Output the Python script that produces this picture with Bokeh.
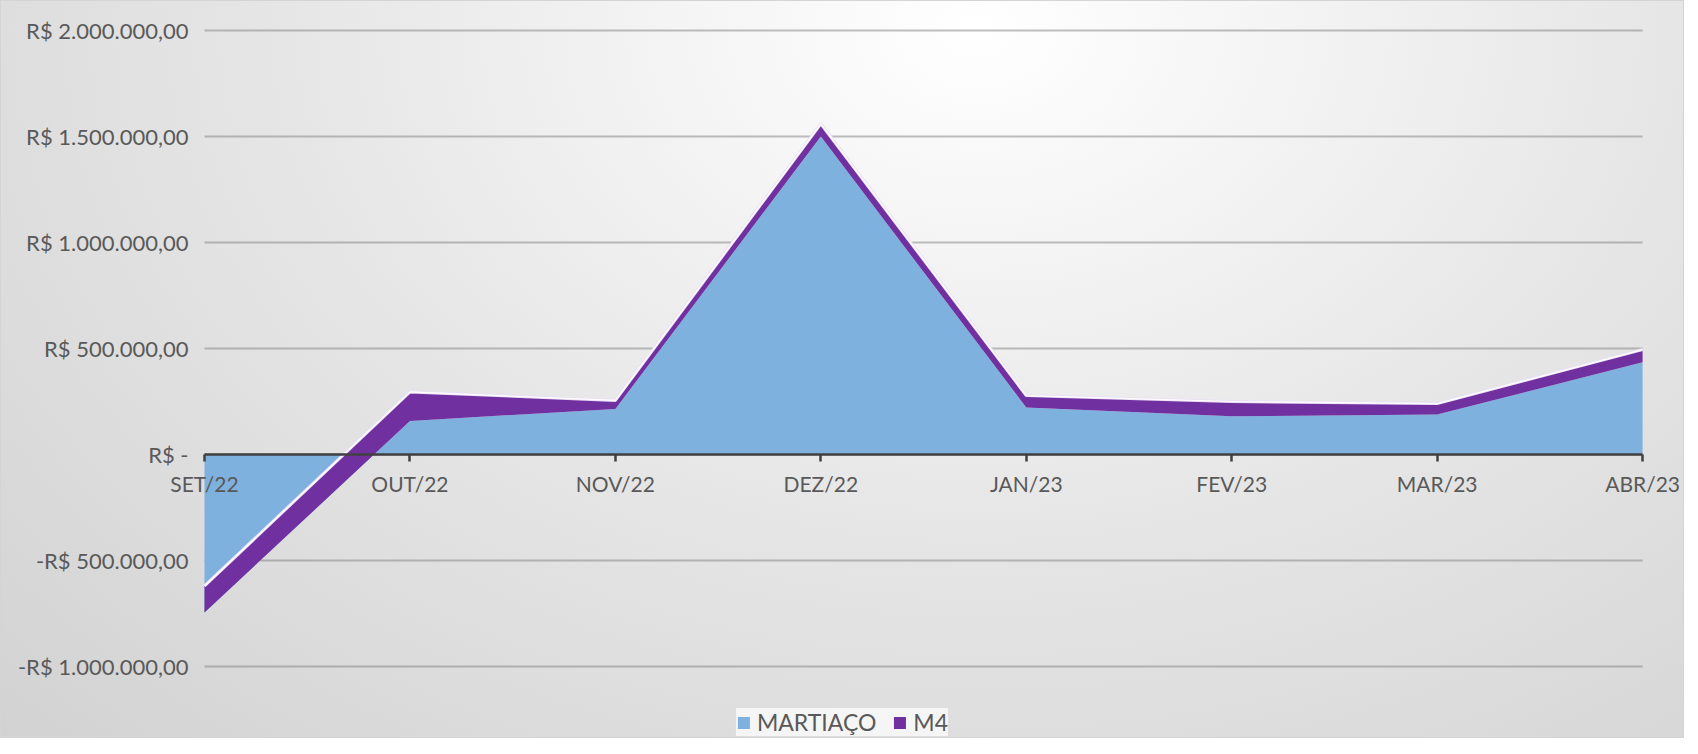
from bokeh.plotting import figure
from bokeh.models import FixedTicker, Range1d, Legend, LegendItem
from bokeh.embed import file_html
from bokeh.resources import INLINE

categories = ["SET/22", "OUT/22", "NOV/22", "DEZ/22", "JAN/23", "FEV/23", "MAR/23", "ABR/23"]
martiaco = [-745000, 158000, 215000, 1500000, 222000, 180000, 189000, 435000]
m4 = [125000, 137000, 40000, 60000, 56000, 70000, 51000, 60000]
y_ticks = [-1000000, -500000, 0, 500000, 1000000, 1500000, 2000000]
y_tick_labels = ["-R$ 1.000.000,00", "-R$ 500.000,00", "R$ -", "R$ 500.000,00",
                 "R$ 1.000.000,00", "R$ 1.500.000,00", "R$ 2.000.000,00"]

x = list(range(len(categories)))
total = [a + b for a, b in zip(martiaco, m4)]
zeros = [0] * len(x)

FONT = "Lato"
TXT = "#595959"

p = figure(width=1684, height=738, output_backend="svg", toolbar_location=None,
           x_range=Range1d(-0.993, 7.204), y_range=Range1d(-1339600, 2141500),
           min_border=0)
p.background_fill_alpha = 0
p.border_fill_alpha = 0
p.outline_line_color = None
p.styles = {
    "background": "radial-gradient(ellipse farthest-corner at 58% 4%, #ffffff 0%, #f8f8f8 14%, #e6e6e6 50%, #d2d2d2 100%)",
    "box-shadow": "inset 0 0 0 1px #d4d4d4",
}

# horizontal gridlines across the category span
p.segment(x0=[x[0]] * len(y_ticks), x1=[x[-1]] * len(y_ticks), y0=y_ticks, y1=y_ticks,
          line_color="#7f7f7f", line_alpha=0.5, line_width=2)

r1 = p.varea(x=x, y1=zeros, y2=martiaco, fill_color="#7fb1de")
r2 = p.varea(x=x, y1=martiaco, y2=total, fill_color="#7030a0")
p.line(x=x, y=total, line_color="#eadff5", line_width=3)
p.line(x=x, y=total, line_color="#ffffff", line_width=1.2)

p.xgrid.visible = False
p.ygrid.visible = False

# y axis
p.yaxis.fixed_location = 0
p.yaxis.ticker = FixedTicker(ticks=y_ticks)
p.yaxis.major_label_overrides = {t: l for t, l in zip(y_ticks, y_tick_labels)}
p.yaxis.axis_line_color = None
p.yaxis.major_tick_line_color = None
p.yaxis.minor_tick_line_color = None
p.yaxis.major_label_standoff = 10
p.yaxis.major_label_text_font = FONT
p.yaxis.major_label_text_font_size = "22px"
p.yaxis.major_label_text_color = TXT

# x axis at zero
p.xaxis.fixed_location = 0
p.xaxis.bounds = (x[0], x[-1])
p.xaxis.ticker = FixedTicker(ticks=x)
p.xaxis.major_label_overrides = {i: c for i, c in zip(x, categories)}
p.xaxis.axis_line_color = "#404040"
p.xaxis.axis_line_width = 2.5
p.xaxis.major_tick_line_color = "#404040"
p.xaxis.major_tick_line_width = 2.5
p.xaxis.major_tick_out = 7
p.xaxis.major_tick_in = 0
p.xaxis.minor_tick_line_color = None
p.xaxis.major_label_standoff = 9
p.xaxis.major_label_text_font = FONT
p.xaxis.major_label_text_font_size = "21px"
p.xaxis.major_label_text_color = TXT

legend = Legend(items=[LegendItem(label="MARTIAÇO", renderers=[r1]),
                       LegendItem(label="M4", renderers=[r2])],
                orientation="horizontal", location="bottom_center",
                label_text_font=FONT, label_text_font_size="23px", label_text_color=TXT,
                glyph_width=15, glyph_height=15, spacing=16, padding=12, label_standoff=6,
                background_fill_color="white", background_fill_alpha=0.7,
                border_line_color=None, margin=2)
p.add_layout(legend)

open("out.html", "w").write(file_html(p, INLINE))
